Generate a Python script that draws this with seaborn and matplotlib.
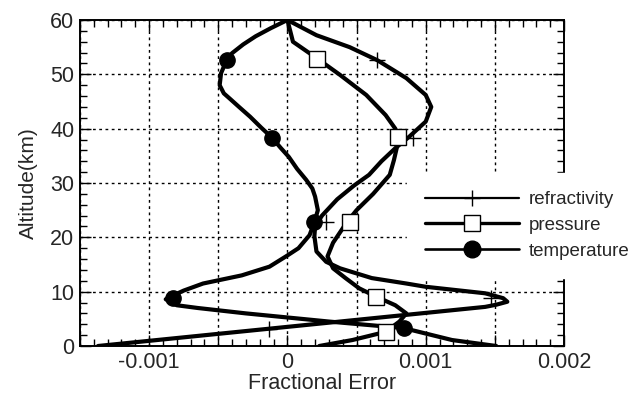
import numpy as np
import matplotlib
matplotlib.use("Agg")
import matplotlib.pyplot as plt
import seaborn as sns
from matplotlib.lines import Line2D
from matplotlib.ticker import MultipleLocator, FuncFormatter

# curves: altitude (km) and fractional error
refr_alt = [60, 57.2, 55, 52.6, 49.3, 46.2, 44, 41.3, 38.5, 36.4, 34, 31.5, 29.5, 27, 24, 22,
            20.2, 17.4, 15.5, 14.3, 12.5, 11.5, 10.9, 9.7, 8.8, 8.15, 7.6, 7.2, 0]
refr_err = [0, 0.00021, 0.00045, 0.00065, 0.00086, 0.001, 0.00104, 0.001, 0.00088, 0.00078,
            0.00068, 0.00059, 0.00048, 0.00036, 0.00025, 0.0002, 0.000195, 0.00021, 0.00028,
            0.00038, 0.00061, 0.00086, 0.001, 0.00143, 0.00156, 0.00159, 0.00151, 0.00143, -0.00137]

pres_alt = [60, 56, 53, 49.9, 46.2, 42.5, 40, 38.5, 36.4, 34.2, 31.5, 28, 25, 22.8, 19, 16.5,
            14.3, 12.5, 10.6, 9.1, 7.5, 6.0, 4.5, 2.6, 1.1, 0]
pres_err = [0, 0.00004, 0.00021, 0.00038, 0.00057, 0.00071, 0.00078, 0.0008, 0.00079, 0.00077,
            0.00074, 0.00062, 0.0005, 0.00043, 0.00033, 0.00029, 0.00033, 0.00042, 0.00052,
            0.00064, 0.00078, 0.00086, 0.00081, 0.00071, 0.00047, 0.00023]

temp_alt = [60, 58.5, 57, 55.5, 53.9, 52.6, 50.2, 48, 46.5, 45.6, 44, 42.2, 40.2, 38.3, 36.5,
            34.8, 32.6, 30.6, 29, 27.5, 25, 22.8, 20.4, 18, 16.5, 14.6, 13, 11.5, 10.2, 9.5,
            8.6, 7.5, 7.0, 6.0, 4.5, 3.3, 1.1, 0]
temp_err = [0, -0.00012, -0.00023, -0.00032, -0.0004, -0.00044, -0.00048, -0.00049, -0.00046,
            -0.00042, -0.00035, -0.00027, -0.00019, -0.00011, -0.00005, 0.00001, 0.00007,
            0.000135, 0.00018, 0.0002, 0.00022, 0.000195, 0.00016, 0.00008, -0.00001, -0.00013,
            -0.00033, -0.00061, -0.00075, -0.00081, -0.00088, -0.0008, -0.00065, -0.0003,
            0.0003, 0.00084, 0.00119, 0.00151]

# marker positions
refr_mk_alt = [52.6, 38.3, 22.9, 8.9, 3.2]
refr_mk_err = [0.00065, 0.00091, 0.00028, 0.00147, -0.00013]
pres_mk_alt = [52.8, 38.5, 22.8, 9.1, 2.6]
pres_mk_err = [0.000214, 0.0008, 0.00045, 0.00064, 0.00071]
temp_mk_alt = [52.6, 38.3, 22.8, 8.9, 3.3]
temp_mk_err = [-0.00044, -0.00011, 0.000195, -0.00083, 0.00084]

labels = ["refractivity", "pressure", "temperature"]

sns.set_style("ticks")
plt.rcParams["font.family"] = ["Liberation Sans", "DejaVu Sans"]

fig = plt.figure(figsize=(6.44, 3.93), dpi=100)
ax = fig.add_axes([80 / 644, 47 / 393, 484 / 644, 326 / 393])

lw = 3.0
sns.lineplot(x=refr_err, y=refr_alt, sort=False, estimator=None, color="black", lw=lw, ax=ax)
sns.lineplot(x=pres_err, y=pres_alt, sort=False, estimator=None, color="black", lw=lw, ax=ax)
sns.lineplot(x=temp_err, y=temp_alt, sort=False, estimator=None, color="black", lw=lw, ax=ax)

ax.plot(refr_mk_err, refr_mk_alt, ls="none", marker="+", ms=12, mew=1.0, color="black", zorder=4)
ax.plot(pres_mk_err, pres_mk_alt, ls="none", marker="s", ms=11, mew=1.0,
        mfc="white", mec="black", zorder=4)
ax.plot(temp_mk_err, temp_mk_alt, ls="none", marker="o", ms=11, color="black", zorder=4)

ax.set_xlim(-0.0015, 0.002)
ax.set_ylim(0, 60)

ax.xaxis.set_major_locator(MultipleLocator(0.0005))
ax.xaxis.set_minor_locator(MultipleLocator(0.0001))
ax.yaxis.set_major_locator(MultipleLocator(10))
ax.yaxis.set_minor_locator(MultipleLocator(2))


def xfmt(v, pos):
    k = round(v / 0.001, 6)
    if abs(k - round(k)) > 1e-6:
        return ""
    if round(k) == 0:
        return "0"
    return "%.3f" % v


ax.xaxis.set_major_formatter(FuncFormatter(xfmt))
ax.tick_params(which="both", direction="in", top=True, right=True, width=1.0, color="black")
ax.tick_params(which="major", length=8)
ax.tick_params(which="minor", length=5)
ax.tick_params(axis="x", labelsize=15.5, pad=4)
ax.tick_params(axis="y", labelsize=15.5, pad=4)

ax.grid(True, which="major", color="black", ls=(0, (2, 2.5)), lw=1.0)
for sp in ax.spines.values():
    sp.set_linewidth(1.4)
    sp.set_color("black")

ax.set_xlabel("Fractional Error", fontsize=15.5, labelpad=0)
ax.set_ylabel("Altitude(km)", fontsize=15, labelpad=9)

handles = [
    Line2D([], [], color="black", lw=1.6, marker="+", ms=12, mew=1.0),
    Line2D([], [], color="black", lw=2.4, marker="s", ms=11, mew=1.0, mfc="white", mec="black"),
    Line2D([], [], color="black", lw=1.9, marker="o", ms=12),
]
leg = ax.legend(handles, labels, loc="center left", bbox_to_anchor=(0.675, 0.37),
                fontsize=13.5, handlelength=5.0, handletextpad=0.5, labelspacing=0.45,
                borderpad=1.0, borderaxespad=0, frameon=True, fancybox=False,
                facecolor="white", edgecolor="white", framealpha=1)

fig.savefig("out.png", dpi=100)
